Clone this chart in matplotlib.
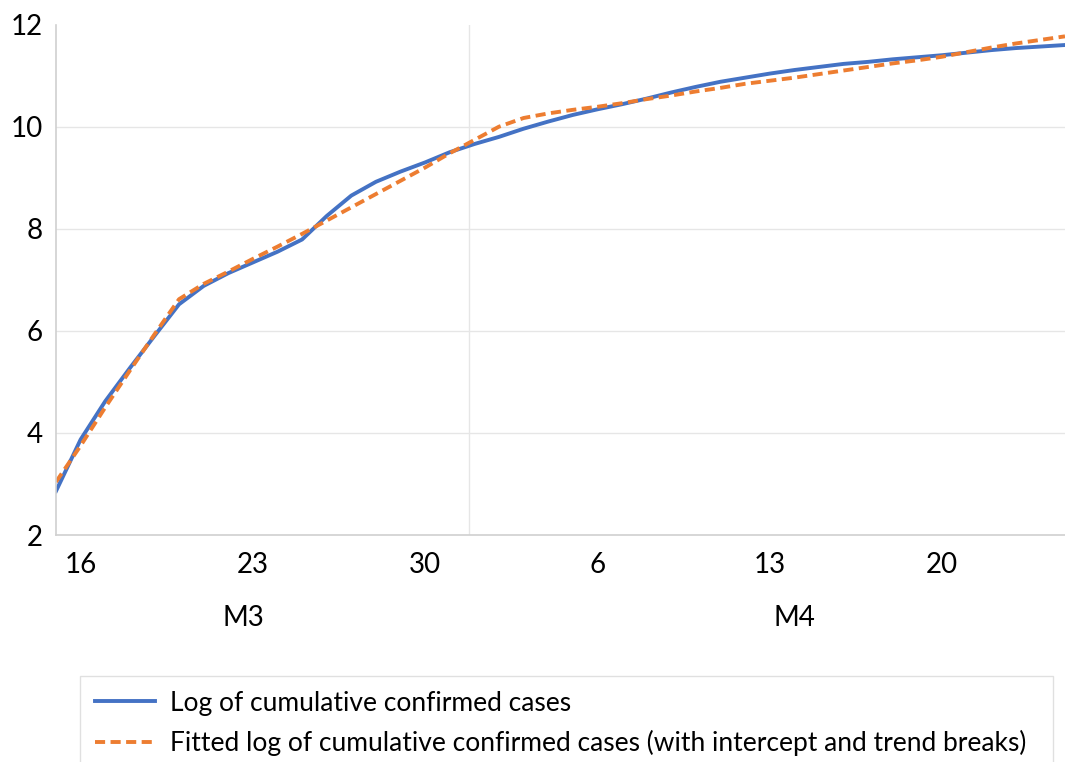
import matplotlib
matplotlib.use("Agg")
import matplotlib.pyplot as plt
import matplotlib.transforms as mtransforms
import numpy as np

plt.rcParams["font.family"] = ["Lato", "DejaVu Sans"]

# Daily values from 15 March (index 0) to 25 April (index 41)
log_cases = [2.86, 3.87, 4.62, 5.27, 5.90, 6.52, 6.88, 7.13, 7.34, 7.55,
             7.79, 8.25, 8.65, 8.92, 9.12, 9.30, 9.50, 9.66, 9.80, 9.96,
             10.10, 10.23, 10.34, 10.44, 10.55, 10.67, 10.78, 10.88, 10.96, 11.04,
             11.11, 11.17, 11.23, 11.27, 11.32, 11.36, 11.40, 11.45, 11.50, 11.54,
             11.57, 11.60]
fitted_log = [3.04, 3.75, 4.50, 5.22, 5.93, 6.62, 6.92, 7.16, 7.41, 7.65,
              7.90, 8.16, 8.42, 8.68, 8.94, 9.20, 9.48, 9.74, 10.00, 10.17,
              10.26, 10.33, 10.39, 10.46, 10.54, 10.61, 10.69, 10.76, 10.84, 10.90,
              10.96, 11.03, 11.10, 11.17, 11.24, 11.30, 11.37, 11.46, 11.55, 11.63,
              11.70, 11.77]
day_index = np.arange(len(log_cases))

tick_days = [1, 8, 15, 22, 29, 36]
tick_labels = ["16", "23", "30", "6", "13", "20"]
months = ["M3", "M4"]
month_pos = [7.6, 30.0]
month_split = 16.8

blue = "#4472C4"
orange = "#ED7D31"

fig = plt.figure(figsize=(10.65, 7.62), dpi=100)
ax = fig.add_axes([56 / 1065, 1 - 535 / 762, 1 - 56 / 1065, (535 - 24.6) / 762])

ax.plot(day_index, log_cases, color=blue, lw=2.8,
        label="Log of cumulative confirmed cases")
ax.plot(day_index, fitted_log, color=orange, lw=2.8, linestyle=(0, (2.6, 1.4)),
        dash_capstyle="butt",
        label="Fitted log of cumulative confirmed cases (with intercept and trend breaks)")

ax.set_xlim(0, len(log_cases) - 1)
ax.set_ylim(2, 12)
ax.set_yticks(np.arange(2, 13, 2))
ax.set_xticks(tick_days)
ax.set_xticklabels(tick_labels)
ax.tick_params(axis="x", length=0, pad=12, labelsize=20)
ax.tick_params(axis="y", length=0, pad=9.5, labelsize=20)

ax.yaxis.grid(True, color="#e6e6e6", lw=1)
ax.get_ygridlines()[-1].set_visible(False)
ax.set_axisbelow(True)
ax.axvline(month_split, color="#e6e6e6", lw=1, zorder=0)

for s in ["top", "right"]:
    ax.spines[s].set_visible(False)
for s in ["left", "bottom"]:
    ax.spines[s].set_color("#d0d0d0")
    ax.spines[s].set_linewidth(1.2)

trans = mtransforms.blended_transform_factory(ax.transData, ax.transAxes)
for m, p in zip(months, month_pos):
    ax.text(p, -0.163, m, transform=trans, ha="center", va="center", fontsize=20)

leg = fig.legend(loc="upper left", bbox_to_anchor=(80 / 1065, 0.0, 973 / 1065, 1 - 676 / 762),
                 mode="expand", fontsize=19, handlelength=2.3, handletextpad=0.55,
                 labelspacing=0.55, borderpad=0.55, borderaxespad=0,
                 fancybox=False, frameon=True)
leg.get_frame().set_edgecolor("#d9d9d9")
leg.get_frame().set_linewidth(1)

fig.savefig("out.png", dpi=100)
